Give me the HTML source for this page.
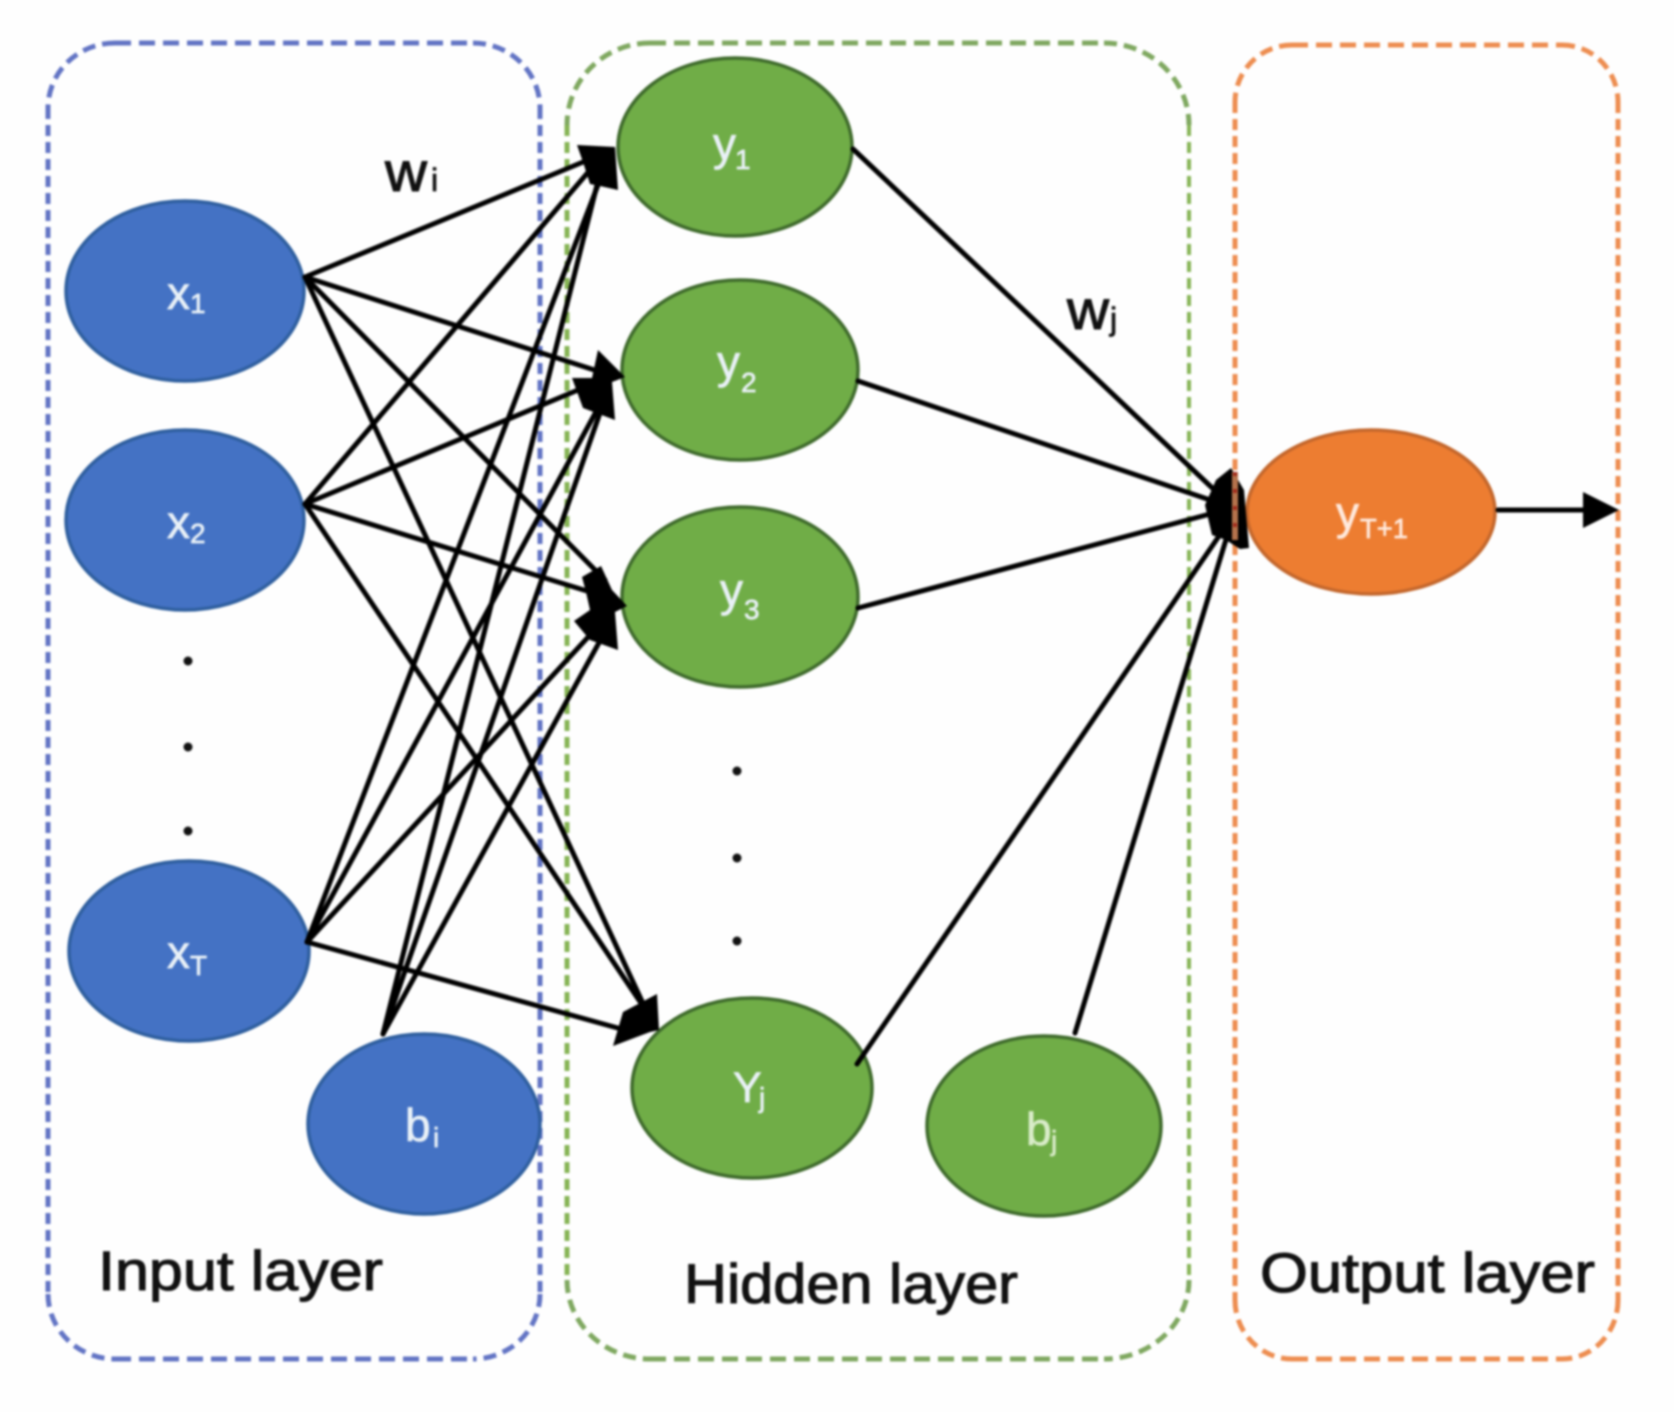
<!DOCTYPE html>
<html>
<head>
<meta charset="utf-8">
<style>
html,body{margin:0;padding:0;background:#fefefe;width:1674px;height:1412px;overflow:hidden}
svg{display:block;filter:blur(1px)}
text{font-family:"Liberation Sans",sans-serif}
.n{fill:#e9f1f7;font-size:46px;stroke:#e9f1f7;stroke-width:.7px}
.s{fill:#e9f1f7;font-size:28px;stroke:#e9f1f7;stroke-width:.7px}
.l{fill:#111;font-size:56px;stroke:#111;stroke-width:1.1px}
.o{fill:#ffe9dc;stroke:#ffe9dc}
.g{fill:#d9ecc9;stroke:#d9ecc9}
.w{font-size:32px;fill:#111;stroke:#111;stroke-width:.8px}
</style>
</head>
<body>
<svg width="1674" height="1412" viewBox="0 0 1674 1412" xmlns="http://www.w3.org/2000/svg">
<rect width="1674" height="1412" fill="#fefefe"/>

<!-- layer boxes -->
<g fill="none" stroke="#6274c4" stroke-width="5">
  <path d="M115 43H473" stroke-dasharray="16 8"/>
  <path d="M115 1359H473" stroke-dasharray="16 8"/>
  <path d="M48 108V1294" stroke-dasharray="11 6"/>
  <path d="M540 108V1294" stroke-dasharray="11 6"/>
  <g stroke-dasharray="13 7">
    <path d="M115 43A67 65 0 0 0 48 108"/>
    <path d="M473 43A67 65 0 0 1 540 108"/>
    <path d="M48 1294A67 65 0 0 0 115 1359"/>
    <path d="M540 1294A67 65 0 0 1 473 1359"/>
  </g>
</g>
<g fill="none" stroke="#7fa860" stroke-width="5">
  <path d="M650 43H1104" stroke-dasharray="16 8"/>
  <path d="M650 1359H1104" stroke-dasharray="16 8"/>
  <path d="M567 125V1280" stroke-dasharray="11 6" stroke="#86b455"/>
  <path d="M1189 125V1280" stroke-dasharray="11 6" stroke-width="4" stroke="#86b455"/>
  <g stroke-dasharray="13 7">
    <path d="M650 43A83 82 0 0 0 567 125"/>
    <path d="M1104 43A85 82 0 0 1 1189 125"/>
    <path d="M567 1280A83 79 0 0 0 650 1359"/>
    <path d="M1189 1280A85 79 0 0 1 1104 1359"/>
  </g>
</g>
<g fill="none" stroke="#ed8d50" stroke-width="5">
  <path d="M1292 45H1562" stroke-dasharray="16 8"/>
  <path d="M1292 1359H1562" stroke-dasharray="16 8"/>
  <path d="M1235 102V1300" stroke-dasharray="11 6"/>
  <path d="M1618 102V1300" stroke-dasharray="11 6"/>
  <g stroke-dasharray="13 7">
    <path d="M1292 45A57 57 0 0 0 1235 102"/>
    <path d="M1562 45A56 57 0 0 1 1618 102"/>
    <path d="M1235 1300A57 59 0 0 0 1292 1359"/>
    <path d="M1618 1300A56 59 0 0 1 1562 1359"/>
  </g>
</g>

<!-- nodes -->
<g fill="#4472c4" stroke="#2f5f9f" stroke-width="3.5">
  <ellipse cx="185" cy="291" rx="119" ry="90"/>
  <ellipse cx="185" cy="520" rx="119" ry="90"/>
  <ellipse cx="189" cy="951" rx="120" ry="90"/>
  <ellipse cx="424" cy="1124" rx="116" ry="90"/>
</g>
<g fill="#70ad47" stroke="#3f6b2c" stroke-width="3.5">
  <ellipse cx="735" cy="147" rx="117" ry="89"/>
  <ellipse cx="740" cy="370" rx="118" ry="90"/>
  <ellipse cx="740" cy="597" rx="118" ry="90"/>
  <ellipse cx="752" cy="1088" rx="120" ry="90"/>
  <ellipse cx="1044" cy="1126" rx="117" ry="90"/>
</g>
<ellipse cx="1371" cy="512" rx="124" ry="82" fill="#ed7d31" stroke="#c4672c" stroke-width="3.500"/>

<!-- connectors -->
<g stroke="#000" stroke-width="5" fill="none" stroke-linecap="round">
  <path d="M305 277L600 155"/>
  <path d="M305 277L610 375"/>
  <path d="M305 277L605 580"/>
  <path d="M305 277L647 1012"/>
  <path d="M305 504L590 170"/>
  <path d="M305 504L590 385"/>
  <path d="M305 504L600 595"/>
  <path d="M305 504L647 1012"/>
  <path d="M307 942L598 185"/>
  <path d="M307 942L597 410"/>
  <path d="M307 942L602 622"/>
  <path d="M307 942L625 1030"/>
  <path d="M383 1034L597 185"/>
  <path d="M383 1034L601 410"/>
  <path d="M383 1034L606 630"/>
  <path d="M853 149L1225 500"/>
  <path d="M858 381L1225 505"/>
  <path d="M858 608L1225 510"/>
  <path d="M857 1064L1230 520"/>
  <path d="M1075 1033L1232 520"/>
  <path d="M1498 510H1590"/>
</g>

<!-- arrowhead clusters -->
<g fill="#000">
  <polygon points="577,145 615,147 618,190 600,186 590,184 583,162"/>
  <polygon points="598,350 625,377 612,382 615,420 583,408 572,378 592,378"/>
  <polygon points="601,566 612,590 627,606 615,612 618,650 590,640 574,621 590,610 586,592 582,577"/>
  <polygon points="657,994 659,1030 650,1032 613,1046 623,1012"/>
  <polygon points="1231,468 1244,490 1249,548 1240,549 1226,540 1212,535 1205,505 1216,480"/>
  <polygon points="1583,492 1619,510 1583,528"/>
</g>
<path d="M1235 472V540" stroke="#b5734c" stroke-width="6" fill="none"/>
<path d="M1235 472V540" stroke="#a12b1c" stroke-width="4" stroke-dasharray="4 13" fill="none"/>

<!-- dots -->
<g fill="#111">
  <circle cx="188" cy="661" r="4.500"/>
  <circle cx="188" cy="747" r="4.500"/>
  <circle cx="188" cy="831" r="4.500"/>
  <circle cx="737" cy="771" r="4.500"/>
  <circle cx="737" cy="858" r="4.500"/>
  <circle cx="737" cy="941" r="4.500"/>
</g>

<!-- node labels -->
<text class="n" x="167" y="309">x</text><text class="s" x="190" y="313">1</text>
<text class="n" x="167" y="538">x</text><text class="s" x="190" y="543">2</text>
<text class="n" x="167" y="968">x</text><text class="s" x="190" y="975">T</text>
<text class="n" x="405" y="1141">b</text><text class="s" x="433" y="1147">i</text>
<text class="n g" x="1026" y="1145">b</text><text class="s g" x="1051" y="1150">j</text>
<text class="n" x="713" y="160">y</text><text class="s" x="735" y="169">1</text>
<text class="n" x="717" y="378">y</text><text class="s" x="741" y="392">2</text>
<text class="n" x="720" y="606">y</text><text class="s" x="744" y="619">3</text>
<text class="n" x="733" y="1102" style="font-size:43px">Y</text><text class="s" x="759" y="1107">j</text>
<text class="n o" x="1336" y="529">y</text><text class="s o" x="1360" y="538" textLength="48" lengthAdjust="spacingAndGlyphs">T+1</text>

<!-- weights -->
<text class="l" x="385" y="191" textLength="42" lengthAdjust="spacingAndGlyphs">w</text><text class="w" x="431" y="191">i</text>
<text class="l" x="1067" y="329" textLength="42" lengthAdjust="spacingAndGlyphs">w</text><text class="w" x="1110" y="330">j</text>

<!-- layer titles -->
<text class="l" x="98" y="1290" textLength="285" lengthAdjust="spacingAndGlyphs">Input layer</text>
<text class="l" x="684" y="1303" textLength="334" lengthAdjust="spacingAndGlyphs">Hidden layer</text>
<text class="l" x="1260" y="1292" textLength="335" lengthAdjust="spacingAndGlyphs">Output layer</text>
</svg>
</body>
</html>
